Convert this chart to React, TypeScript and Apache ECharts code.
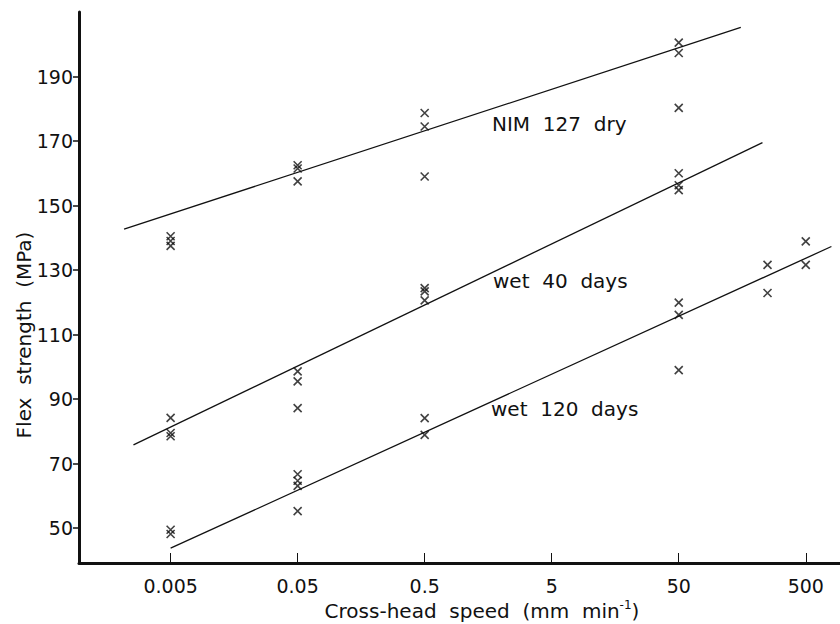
import React, { useEffect, useRef } from "react";
import * as echarts from "echarts";

// Cross-head speed (mm/min) vs flex strength (MPa)
const dryPoints: [number, number][] = [
  [0.005, 140.5], [0.005, 139], [0.005, 137.5],
  [0.05, 162.5], [0.05, 161.5], [0.05, 157.5],
  [0.5, 178.7], [0.5, 174.5], [0.5, 159],
  [50, 200.5], [50, 197.3], [50, 180.3],
];
const wet40Points: [number, number][] = [
  [0.005, 84.2], [0.005, 79.5], [0.005, 78.5],
  [0.05, 98.6], [0.05, 95.5], [0.05, 87.2],
  [0.5, 124.4], [0.5, 123.4], [0.5, 120.6],
  [50, 160], [50, 156.3], [50, 154.8],
];
const wet120Points: [number, number][] = [
  [0.005, 49.5], [0.005, 48.2],
  [0.05, 66.7], [0.05, 64.7], [0.05, 63.1], [0.05, 55.3],
  [0.5, 84.1], [0.5, 78.9],
  [50, 119.9], [50, 116.1], [50, 99],
  [250, 131.6], [250, 122.9],
  [500, 138.9], [500, 131.6],
];

// fitted straight lines (end points)
const dryFit: [number, number][] = [[0.00215, 142.7], [154, 205.2]];
const wet40Fit: [number, number][] = [[0.00255, 75.8], [228, 169.5]];
const wet120Fit: [number, number][] = [[0.005, 43.8], [796, 137.3]];

const xTicks = [0.005, 0.05, 0.5, 5, 50, 500];
const xTickLabels = ["0.005", "0.05", "0.5", "5", "50", "500"];
const yTicks = [50, 70, 90, 110, 130, 150, 170, 190];

const seriesLabels = ["NIM  127  dry", "wet  40  days", "wet  120  days"];

const FONT = "DejaVu Sans";
const INK = "#111";

export default function App() {
  const ref = useRef<HTMLDivElement>(null);
  useEffect(() => {
    document.body.style.margin = "0";
    const chart = echarts.init(ref.current!, null, { renderer: "svg" });
    const cross = "path://M0,0L10,10M10,0L0,10";
    const scatter = (name: string, data: [number, number][]) => ({
      type: "scatter",
      name,
      data,
      symbol: cross,
      symbolSize: 8,
      itemStyle: { color: "rgba(0,0,0,0)", borderColor: INK, borderWidth: 1.6 },
      z: 3,
    });
    const fit = (name: string, data: [number, number][]) => ({
      type: "line",
      name,
      data,
      symbol: "none",
      lineStyle: { color: INK, width: 1.3 },
      z: 2,
    });
    chart.setOption({
      animation: false,
      backgroundColor: "#fff",
      grid: { left: 79, right: 0, top: 12, bottom: 61, containLabel: false },
      xAxis: {
        type: "log",
        logBase: 10,
        min: 0.00095,
        max: 930,
        axisLine: { show: true, lineStyle: { color: INK, width: 3 } },
        axisTick: {
          show: true,
          inside: true,
          length: 10,
          lineStyle: { color: INK, width: 1 },
          customValues: xTicks,
        },
        axisLabel: {
          customValues: xTicks,
          formatter: (v: number) => {
            const i = xTicks.findIndex((t) => Math.abs(t - v) / t < 1e-6);
            return i >= 0 ? xTickLabels[i] : "";
          },
          color: INK,
          fontFamily: FONT,
          fontSize: 19,
          margin: 13,
        },
        splitLine: { show: false },
        minorTick: { show: false },
      },
      yAxis: {
        type: "value",
        min: 39.2,
        max: 210,
        axisLine: { show: true, lineStyle: { color: INK, width: 3 } },
        axisTick: {
          show: true,
          length: 6,
          lineStyle: { color: INK, width: 1.5 },
          customValues: yTicks,
        },
        axisLabel: {
          customValues: yTicks,
          color: INK,
          fontFamily: FONT,
          fontSize: 19,
          margin: 6,
        },
        splitLine: { show: false },
      },
      series: [
        fit("NIM 127 dry fit", dryFit),
        fit("wet 40 days fit", wet40Fit),
        fit("wet 120 days fit", wet120Fit),
        scatter("NIM 127 dry", dryPoints),
        scatter("wet 40 days", wet40Points),
        scatter("wet 120 days", wet120Points),
      ],
      graphic: [
        {
          type: "text",
          x: 492,
          y: 124,
          style: { text: seriesLabels[0], fill: INK, font: `20px "${FONT}"`, verticalAlign: "middle" },
        },
        {
          type: "text",
          x: 493,
          y: 281,
          style: { text: seriesLabels[1], fill: INK, font: `20px "${FONT}"`, verticalAlign: "middle" },
        },
        {
          type: "text",
          x: 491,
          y: 409,
          style: { text: seriesLabels[2], fill: INK, font: `20px "${FONT}"`, verticalAlign: "middle" },
        },
        {
          type: "text",
          x: 24,
          y: 335,
          rotation: Math.PI / 2,
          style: {
            text: "Flex  strength  (MPa)",
            fill: INK,
            font: `20px "${FONT}"`,
            align: "center",
            verticalAlign: "middle",
          },
        },
        {
          type: "text",
          x: 482,
          y: 610,
          style: {
            text: "{a|Cross-head  speed  (mm  min}{s|-1}{a|)}",
            align: "center",
            verticalAlign: "middle",
            rich: {
              a: { fill: INK, fontFamily: FONT, fontSize: 20, verticalAlign: "bottom", lineHeight: 22 },
              s: { fill: INK, fontFamily: FONT, fontSize: 12, verticalAlign: "top", lineHeight: 22 },
            },
          },
        },
      ],
    });
    return () => chart.dispose();
  }, []);
  return <div ref={ref} style={{ width: 840, height: 624 }} />;
}
